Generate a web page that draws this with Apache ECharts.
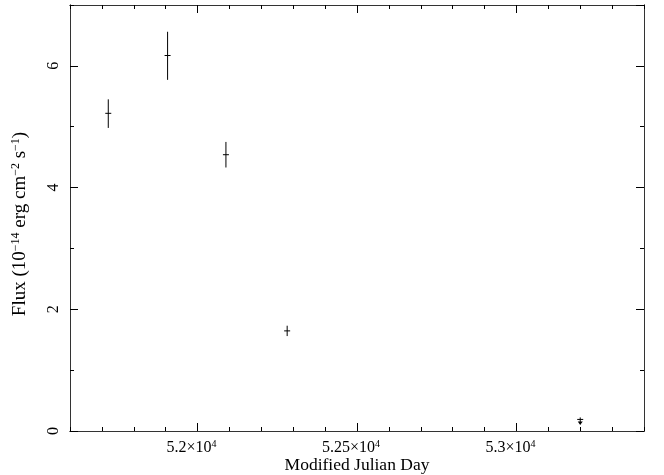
<!DOCTYPE html>
<html>
<head>
<meta charset="utf-8">
<script src="https://cdn.jsdelivr.net/npm/echarts@6/dist/echarts.min.js"></script>
<style>
  html, body { margin: 0; padding: 0; background: #fff; }
  #chart { width: 664px; height: 475px; }
</style>
</head>
<body>
<div id="chart"></div>
<script>
// Light-curve measurements: MJD, flux (1e-14 erg cm^-2 s^-1) and 1-sigma range
const mjd = [51720, 51906, 52089, 52281];
const flux = [5.22, 6.17, 4.54, 1.645];
const fluxLow = [4.98, 5.77, 4.33, 1.56];
const fluxHigh = [5.45, 6.56, 4.75, 1.73];

// Upper limit for the last epoch
const limitMjd = [53200];
const limitFlux = [0.19];

// Axis ranges and labelled ticks
const xMin = 51600, xMax = 53400;
const xMajorTicks = [52000, 52500, 53000];
const yMin = 0, yMax = 7;

const FONT = '"Liberation Serif", "Times New Roman", serif';
const AXIS_COLOR = '#333';

const chart = echarts.init(document.getElementById('chart'), null, { renderer: 'canvas' });

function sciLabel(v) {
  const m = +(v / 1e4).toFixed(3);
  return '{b|' + m + '×10}{s|4}';
}

const labelRich = {
  b: { fontFamily: FONT, fontSize: 16, color: '#000' },
  s: { fontFamily: FONT, fontSize: 10, color: '#000', padding: [0, 0, 7, 0] }
};

function xAxisDef(position, major, showLabel) {
  const ax = {
    type: 'value', position: position, min: xMin, max: xMax,
    axisLine: { show: true, onZero: false, lineStyle: { color: AXIS_COLOR, width: 1 } },
    splitLine: { show: false },
    axisTick: { show: true, inside: true, length: major ? 8 : 4, lineStyle: { color: '#000', width: 1 } },
    axisLabel: { show: false }
  };
  if (major) {
    ax.axisTick.customValues = xMajorTicks;
    ax.axisLabel = {
      show: showLabel, customValues: xMajorTicks, margin: 8,
      padding: [0, 12, 0, 0],
      formatter: sciLabel, rich: labelRich
    };
  } else {
    ax.interval = 100;
  }
  return ax;
}

function yAxisDef(position, major, showLabel) {
  return {
    type: 'value', position: position, min: yMin, max: yMax,
    interval: major ? 2 : 1,
    axisLine: { show: true, onZero: false, lineStyle: { color: AXIS_COLOR, width: 1 } },
    splitLine: { show: false },
    axisTick: { show: true, inside: true, length: major ? 8 : 4, lineStyle: { color: '#000', width: 1 } },
    axisLabel: {
      show: showLabel, rotate: 90, margin: 8, showMaxLabel: false,
      fontFamily: FONT, fontSize: 16, color: '#000'
    }
  };
}

const yAxes = [
  yAxisDef('left', true, true),
  yAxisDef('left', false, false),
  yAxisDef('right', true, false),
  yAxisDef('right', false, false)
];
yAxes[0].name = 'Flux (10{s|−14} erg cm{s|−2} s{s|−1})';
yAxes[0].nameLocation = 'middle';
yAxes[0].nameRotate = 90;
yAxes[0].nameGap = 40;
yAxes[0].nameMoveOverlap = false;
yAxes[0].nameTextStyle = {
  fontFamily: FONT, fontSize: 19, color: '#000',
  padding: [0, 12, 0, 0],
  rich: {
    s: { fontFamily: FONT, fontSize: 12, color: '#000', padding: [0, 0, 8, 0] }
  }
};

const xAxes = [
  xAxisDef('bottom', true, true),
  xAxisDef('bottom', false, false),
  xAxisDef('top', true, false),
  xAxisDef('top', false, false)
];
xAxes[0].name = 'Modified Julian Day';
xAxes[0].nameLocation = 'middle';
xAxes[0].nameGap = 25;
xAxes[0].nameMoveOverlap = false;
xAxes[0].nameTextStyle = { fontFamily: FONT, fontSize: 17.5, color: '#000' };

const pointData = mjd.map((x, i) => [x, flux[i], fluxLow[i], fluxHigh[i]]);
const limitData = limitMjd.map((x, i) => [x, limitFlux[i]]);

const option = {
  backgroundColor: '#fff',
  animation: false,
  grid: { left: 70, right: 20, top: 5, bottom: 44, outerBoundsMode: 'none' },
  xAxis: xAxes,
  yAxis: yAxes,
  series: [
    {
      type: 'custom',
      name: 'flux',
      xAxisIndex: 0, yAxisIndex: 0,
      data: pointData,
      renderItem: function (params, api) {
        const c = api.coord([api.value(0), api.value(1)]);
        const lo = api.coord([api.value(0), api.value(2)]);
        const hi = api.coord([api.value(0), api.value(3)]);
        const st = { stroke: '#000', lineWidth: 1 };
        return {
          type: 'group',
          children: [
            { type: 'line', shape: { x1: c[0], y1: hi[1], x2: c[0], y2: lo[1] }, style: st },
            { type: 'line', shape: { x1: c[0] - 3, y1: c[1], x2: c[0] + 3, y2: c[1] }, style: st }
          ]
        };
      }
    },
    {
      type: 'custom',
      name: 'upper limit',
      xAxisIndex: 0, yAxisIndex: 0,
      data: limitData,
      renderItem: function (params, api) {
        const c = api.coord([api.value(0), api.value(1)]);
        const st = { stroke: '#000', lineWidth: 1 };
        return {
          type: 'group',
          children: [
            { type: 'line', shape: { x1: c[0], y1: c[1] - 2, x2: c[0], y2: c[1] + 4 }, style: st },
            { type: 'line', shape: { x1: c[0] - 3, y1: c[1], x2: c[0] + 3, y2: c[1] }, style: st },
            { type: 'polygon', shape: { points: [[c[0] - 2.5, c[1] + 2], [c[0] + 2.5, c[1] + 2], [c[0], c[1] + 5.5]] }, style: { fill: '#000' } }
          ]
        };
      }
    }
  ]
};

chart.setOption(option);
</script>
</body>
</html>
